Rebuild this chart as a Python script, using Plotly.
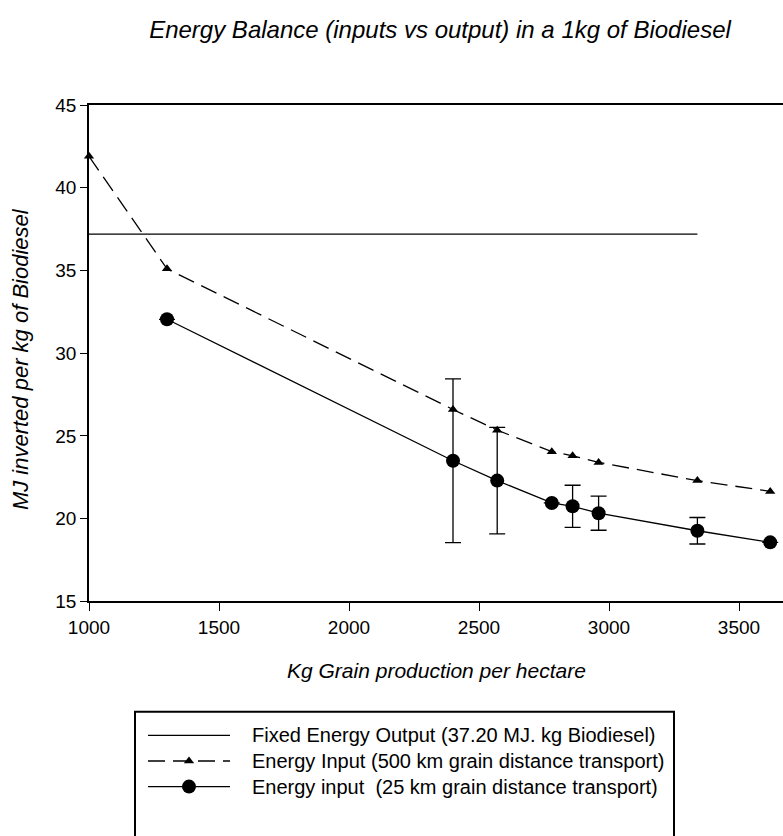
import plotly.graph_objects as go

# ---- data ----
x_fixed = [1000, 3340]
y_fixed = [37.2, 37.2]

x_500 = [1000, 1300, 2400, 2570, 2780, 2860, 2960, 3340, 3620]
y_500 = [41.9, 35.1, 26.6, 25.35, 24.05, 23.8, 23.4, 22.3, 21.65]

x_25 = [1300, 2400, 2570, 2780, 2860, 2960, 3340, 3620]
y_25 = [32.05, 23.5, 22.3, 20.95, 20.75, 20.33, 19.27, 18.57]
err_25 = [None, 4.95, 3.22, None, 1.27, 1.03, 0.8, None]

x_ticks = [1000, 1500, 2000, 2500, 3000, 3500]
y_ticks = [15, 20, 25, 30, 35, 40, 45]

legend_names = [
    "Fixed Energy Output (37.20 MJ. kg Biodiesel)",
    "Energy Input (500 km grain distance transport)",
    "Energy input  (25 km grain distance transport)",
]

title_text = "Energy Balance (inputs vs output) in a 1kg of Biodiesel"
x_title = "Kg Grain production per hectare"
y_title = "MJ inverted per kg of Biodiesel"

# ---- geometry ----
W, H = 783, 836
ML, MT = 89, 105
PLOT_BOTTOM = 609
PW, PH = W - ML, H - MT


def px_x(p):
    return (p - ML) / PW


def px_y(p):
    return (H - p) / PH


FONT = "Liberation Sans, Arial, sans-serif"

fig = go.Figure()

fig.add_trace(go.Scatter(x=x_fixed, y=y_fixed, mode="lines",
                         line=dict(color="black", width=1.3), showlegend=False))
fig.add_trace(go.Scatter(x=x_500, y=y_500, mode="lines+markers", cliponaxis=False,
                         line=dict(color="black", width=1.3, dash="17px,8px"),
                         marker=dict(symbol="triangle-up", size=9, color="black"),
                         showlegend=False))
fig.add_trace(go.Scatter(x=x_25, y=y_25, mode="lines+markers", cliponaxis=False,
                         line=dict(color="black", width=1.3),
                         marker=dict(symbol="circle", size=14, color="black"),
                         error_y=dict(type="data", array=err_25, visible=True,
                                      color="black", thickness=1.3, width=8),
                         showlegend=False))

# legend samples drawn on a small helper axis
rows = [3, 2, 1]
fig.add_trace(go.Scatter(x=[0, 1], y=[rows[0], rows[0]], mode="lines",
                         line=dict(color="black", width=1.3),
                         xaxis="x2", yaxis="y2", showlegend=False, hoverinfo="skip"))
fig.add_trace(go.Scatter(x=[0, 0.5, 1], y=[rows[1]] * 3, mode="lines",
                         line=dict(color="black", width=1.3, dash="17px,8px"),
                         xaxis="x2", yaxis="y2", showlegend=False, hoverinfo="skip"))
fig.add_trace(go.Scatter(x=[0.5], y=[rows[1]], mode="markers",
                         marker=dict(symbol="triangle-up", size=9, color="black"),
                         xaxis="x2", yaxis="y2", showlegend=False, hoverinfo="skip"))
fig.add_trace(go.Scatter(x=[0, 1], y=[rows[2]] * 2, mode="lines",
                         line=dict(color="black", width=1.3),
                         xaxis="x2", yaxis="y2", showlegend=False, hoverinfo="skip"))
fig.add_trace(go.Scatter(x=[0.5], y=[rows[2]], mode="markers",
                         marker=dict(symbol="circle", size=14, color="black"),
                         xaxis="x2", yaxis="y2", showlegend=False, hoverinfo="skip"))

annotations = []
for r, name in zip(rows, legend_names):
    annotations.append(dict(x=px_x(250), y=r, xref="paper", yref="y2", text=name,
                            showarrow=False, xanchor="left", yanchor="middle",
                            font=dict(family=FONT, size=20, color="black")))
annotations.append(dict(x=px_x(20), y=px_y(363), xref="paper", yref="paper",
                        text="<i>" + y_title + "</i>", textangle=-90, showarrow=False,
                        xanchor="center", yanchor="middle",
                        font=dict(family=FONT, size=22, color="black")))
annotations.append(dict(x=px_x(436), y=px_y(679), xref="paper", yref="paper",
                        text="<i>" + x_title + "</i>", showarrow=False,
                        xanchor="center", yanchor="middle",
                        font=dict(family=FONT, size=21, color="black")))

fig.update_layout(
    width=W, height=H,
    margin=dict(l=ML, r=0, t=MT, b=0),
    paper_bgcolor="white", plot_bgcolor="white",
    font=dict(family=FONT, size=19, color="black"),
    title=dict(text="<i>" + title_text + "</i>", x=440 / W, y=1 - 30 / H,
               xanchor="center", yanchor="middle", xref="container", yref="container",
               font=dict(family=FONT, size=24, color="black")),
    xaxis=dict(range=[1000, 1000 + PW / 0.26], tickvals=x_ticks,
               ticks="outside", ticklen=8, tickwidth=1.3, tickcolor="black",
               showline=True, linecolor="black", linewidth=1.5, mirror=True,
               showgrid=False, zeroline=False, anchor="y",
               tickfont=dict(family=FONT, size=19, color="black")),
    yaxis=dict(range=[15, 45], tickvals=y_ticks, domain=[px_y(PLOT_BOTTOM), 1],
               ticks="outside", ticklen=7, tickwidth=1.3, tickcolor="black",
               showline=True, linecolor="black", linewidth=1.5,
               showgrid=False, zeroline=False, anchor="x",
               tickfont=dict(family=FONT, size=19, color="black")),
    xaxis2=dict(domain=[px_x(148), px_x(230)], range=[0, 1], visible=False,
                anchor="y2", fixedrange=True),
    yaxis2=dict(domain=[px_y(810), px_y(732)], range=[0.5, 3.5], visible=False,
                anchor="x2", fixedrange=True),
    shapes=[dict(type="rect", xref="paper", yref="paper",
                 x0=px_x(135), x1=px_x(674), y0=px_y(900), y1=px_y(721),
                 line=dict(color="black", width=2), fillcolor="rgba(0,0,0,0)")],
    annotations=annotations,
    showlegend=False,
)

fig.write_html("out.html")
